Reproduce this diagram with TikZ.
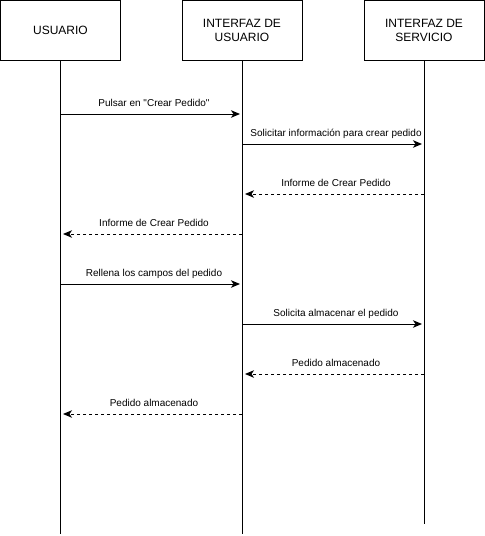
\documentclass[tikz,border=0pt]{standalone}
\usepackage{fontspec}
\setmainfont{Liberation Sans}
\usetikzlibrary{arrows.meta}

\tikzset{
  actor/.style={draw, line width=1pt, minimum width=120pt, minimum height=60pt,
    inner sep=0pt, align=center, font=\fontsize{12}{14.5}\selectfont},
  lifeline/.style={line width=1pt},
  msg/.style={line width=1pt, -{Stealth[length=9pt,width=7.5pt,inset=2.5pt]}, shorten >=2pt},
  reply/.style={msg, dash pattern=on 3pt off 3pt, shorten >=3pt},
  msglabel/.style={anchor=base, inner sep=0pt, font=\fontsize{10}{12}\selectfont}
}

\begin{document}
\begin{tikzpicture}[x=1pt,y=-1pt]
  \useasboundingbox (0,0) rectangle (485,536);
  % participants
  \node[actor] (usr) at (60.5,30.5) {USUARIO};
  \node[actor] (iu) at (242,30.5) {INTERFAZ DE\\USUARIO};
  \node[actor] (is) at (424,30.5) {INTERFAZ DE\\SERVICIO};
  \coordinate (usrend) at (60,534);
  \coordinate (iuend) at (242,534);
  \coordinate (isend) at (424,524);
  \draw[lifeline] (usr.south -| usrend) -- (usrend);
  \draw[lifeline] (iu.south) -- (iuend);
  \draw[lifeline] (is.south) -- (isend);
  % messages
  \foreach \y/\a/\b/\txt/\kind [count=\i] in {
      114/usrend/iuend/{Pulsar en \textquotedbl Crear Pedido\textquotedbl}/msg,
      144/iuend/isend/{Solicitar información para crear pedido}/msg,
      194/isend/iuend/{Informe de Crear Pedido}/reply,
      234/iuend/usrend/{Informe de Crear Pedido}/reply,
      284/usrend/iuend/{Rellena los campos del pedido}/msg,
      324/iuend/isend/{Solicita almacenar el pedido}/msg,
      374/isend/iuend/{Pedido almacenado}/reply,
      414/iuend/usrend/{Pedido almacenado}/reply}{
    \coordinate (m\i a) at (\a |- 0,\y);
    \coordinate (m\i b) at (\b |- 0,\y);
    \draw[\kind] (m\i a) -- (m\i b)
      node[msglabel, midway, yshift=8pt, xshift=3pt] (lbl\i) {\txt};
  }
\end{tikzpicture}
\end{document}
